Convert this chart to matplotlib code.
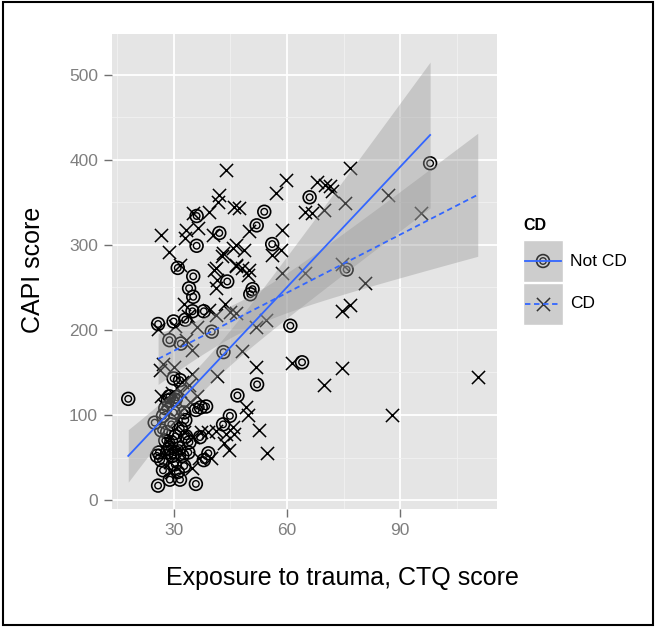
import matplotlib.pyplot as plt
import numpy as np
from matplotlib.patches import Rectangle
from matplotlib.lines import Line2D

plt.rcParams['font.family'] = ['Liberation Sans', 'DejaVu Sans']

# Not CD (circles)
notcd_x = [18.0, 25.9, 30.0, 28.9, 31.9, 33.1, 31.1, 35.2, 34.1, 35.2, 36.1, 36.1, 35.0, 38.0,
           42.1, 44.2, 40.1, 43.2, 50.3, 50.9, 52.0, 54.0, 56.1, 66.0, 60.9, 64.0, 75.8, 97.9,
           46.9, 52.1, 44.9, 43.1, 39.2, 38.0, 37.2, 35.9, 33.1, 25.0, 34.2, 37.0, 35.9, 25.9,
           29.0, 30.0, 31.7, 32.8,
           26.1, 26.7, 27.2, 27.8, 28.3, 28.9, 29.4, 29.7, 30.3, 30.5, 31.1, 31.5, 32.3, 32.8,
           31.7, 33.3, 33.9, 27.8, 28.9, 30.5, 27.2, 30.0, 28.3, 26.7, 29.4, 30.5, 31.9, 25.6,
           38.6, 30.7, 28.5]
notcd_y = [119, 207, 210, 188, 184, 212, 273, 263, 249, 239, 334, 299, 222, 222,
           314, 257, 198, 174, 242, 248, 323, 339, 301, 356, 205, 162, 271, 396,
           123, 136, 99, 89, 55, 47, 109, 106, 94, 91, 68, 74, 19, 17,
           24, 143, 141, 103,
           56, 47, 35, 70, 80, 61, 89, 52, 42, 75, 33, 61, 52, 40,
           24, 75, 56, 108, 122, 118, 99, 103, 56, 82, 68, 56, 84, 52,
           110, 121, 117]

# CD (crosses)
cd_x = [44.0, 42.1, 41.7, 46.1, 39.5, 35.1, 36.4, 33.3, 26.8, 40.4, 32.9, 28.9, 43.0, 45.6,
        31.6, 40.8, 46.5,
        59.7, 57.0, 68.0, 70.2, 71.5, 71.9, 47.4, 64.9, 66.7, 69.7, 75.4, 58.8, 50.0, 46.5,
        48.7, 56.1, 58.3, 46.5, 48.2, 50.0, 49.6, 58.8, 64.9,
        76.8, 86.8, 95.6, 74.6, 80.7, 76.8, 74.6, 74.6, 69.7, 87.7, 110.5,
        46.5, 51.8, 54.4, 48.2, 51.8, 61.4,
        49.1, 49.6, 52.6, 54.8, 45.6, 46.0, 44.7,
        41.6, 35.0, 33.3, 36.1, 30.3, 25.9, 27.2, 30.0, 35.0, 32.2, 26.7, 28.6, 32.8, 34.4,
        36.1, 32.8, 33.9, 43.6, 45.0, 41.1, 41.6, 41.1, 42.7, 37.2, 39.2, 41.1, 40.0,
        32.8, 35.0, 29.4, 26.3, 34.2, 39.5, 41.2,
        35.1, 43.4, 43.9, 36.8, 27.4, 29.6, 31.8, 30.8, 28.2, 31.2, 29.0]
cd_y = [388, 359, 351, 345, 339, 337, 320, 318, 312, 312, 308, 292, 290, 296,
        276, 271, 275,
        376, 361, 374, 371, 369, 363, 343, 339, 337, 341, 349, 318, 316, 300,
        294, 288, 294, 276, 273, 271, 265, 267, 267,
        390, 359, 338, 278, 255, 229, 222, 155, 135, 100, 145,
        220, 204, 212, 175, 157, 161,
        110, 100, 82, 55, 86, 78, 59,
        146, 176, 188, 203, 205, 201, 160, 157, 148, 139, 122, 118, 108, 115,
        122, 230, 216, 230, 221, 249, 259, 273, 287, 80, 80, 81, 49,
        80, 38, 33, 153, 135, 224, 218,
        74, 67, 78, 49, 112, 126, 128, 95, 70, 60, 45]

blue = '#3366FF'


def lm_band(x, y):
    x = np.asarray(x, float)
    y = np.asarray(y, float)
    n = len(x)
    b, a = np.polyfit(x, y, 1)
    xs = np.linspace(x.min(), x.max(), 80)
    fit = a + b * xs
    s = np.sqrt(np.sum((y - (a + b * x)) ** 2) / (n - 2))
    sxx = np.sum((x - x.mean()) ** 2)
    se = s * np.sqrt(1 / n + (xs - x.mean()) ** 2 / sxx)
    return xs, fit, 1.99 * se


fig = plt.figure(figsize=(6.57, 6.27), dpi=100)
ax = fig.add_axes([112 / 657, 1 - 509 / 627, 385 / 657, 475 / 627])
ax.set_facecolor('#E5E5E5')
ax.set_xlim(13.7, 115.6)
ax.set_ylim(-10.5, 548)
for s in ax.spines.values():
    s.set_visible(False)

ax.set_xticks([30, 60, 90])
ax.set_yticks([0, 100, 200, 300, 400, 500])
ax.set_xticks([15, 45, 75, 105], minor=True)
ax.set_yticks([50, 150, 250, 350, 450], minor=True)
ax.grid(which='major', color='white', lw=1.3)
ax.grid(which='minor', color='#F2F2F2', lw=0.6)
ax.set_axisbelow(True)
ax.tick_params(which='major', length=6, width=1.0, color='#707070',
               labelcolor='#7F7F7F', labelsize=12.5, pad=4)
ax.tick_params(which='minor', length=0)

# points
ax.scatter(notcd_x, notcd_y, s=85, facecolors='none', edgecolors='black', linewidths=1.2, zorder=2)
ax.scatter(notcd_x, notcd_y, s=22, facecolors='none', edgecolors='black', linewidths=1.0, zorder=2)
ax.scatter(cd_x, cd_y, s=90, marker='x', color='black', linewidths=1.1, zorder=2)

# smooths
xs, fit, ci = lm_band(notcd_x, notcd_y)
ax.fill_between(xs, fit - ci, fit + ci, color='#999999', alpha=0.4, lw=0, zorder=3)
ax.plot(xs, fit, color=blue, lw=1.3, zorder=4)
xs, fit, ci = lm_band(cd_x, cd_y)
ax.fill_between(xs, fit - ci, fit + ci, color='#999999', alpha=0.4, lw=0, zorder=3)
ax.plot(xs, fit, color=blue, lw=1.3, ls=(0, (3, 2)), zorder=4)

fig.text(33 / 657, 1 - 270 / 627, 'CAPI score', rotation=90, ha='center', va='center', fontsize=18)
fig.text(342 / 657, 1 - 578 / 627, 'Exposure to trauma, CTQ score', ha='center', va='center', fontsize=18)

# legend
lax = fig.add_axes([0, 0, 1, 1], facecolor='none')
lax.set_xlim(0, 657)
lax.set_ylim(627, 0)
lax.axis('off')
lax.text(523, 225, 'CD', fontsize=11.5, fontweight='bold', ha='left', va='center')
for i, (lab, ls) in enumerate([('Not CD', '-'), ('CD', (0, (3, 2)))]):
    y0 = 240 + i * 43
    lax.add_patch(Rectangle((523, y0), 40, 42, fc='#CDCDCD', ec='white', lw=1))
    lax.add_line(Line2D([525, 561], [y0 + 21, y0 + 21], color=blue, lw=1.3, ls=ls))
    if i == 0:
        lax.scatter([543], [y0 + 21], s=85, facecolors='none', edgecolors='#333333', linewidths=1.2)
        lax.scatter([543], [y0 + 21], s=22, facecolors='none', edgecolors='#333333', linewidths=1.0)
    else:
        lax.scatter([543], [y0 + 21], s=90, marker='x', color='#333333', linewidths=1.1)
    lax.text(570, y0 + 21, lab, fontsize=12.5, ha='left', va='center')

fig.patches.append(Rectangle((3 / 657, 2 / 627), 650 / 657, 623 / 627, transform=fig.transFigure,
                             fill=False, ec='black', lw=1.5))

plt.savefig('out.png', dpi=100)
